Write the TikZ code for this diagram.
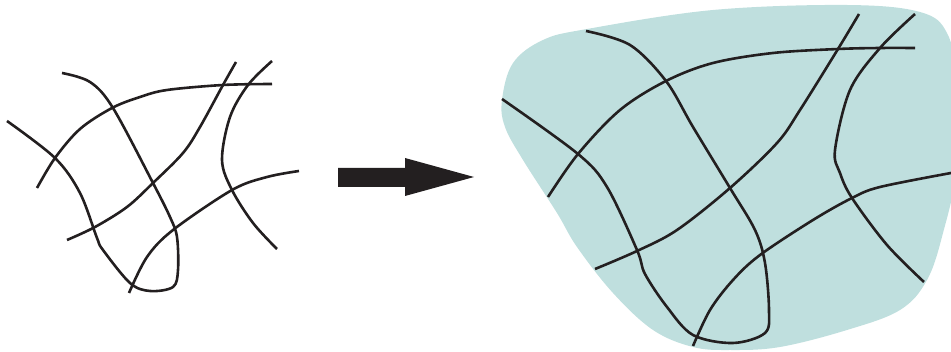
\documentclass[tikz,border=0pt]{standalone}
\definecolor{blobteal}{RGB}{191,223,222}
\definecolor{fiber}{RGB}{35,31,32}
\begin{document}
\begin{tikzpicture}[x=1pt,y=-1pt,
  fiberline/.style={draw=fiber,line width=2.6pt,line cap=butt,line join=round},
  smoothline/.style={smooth,tension=0.55}]
\clip (0,0) rectangle (951,352);
\useasboundingbox (0,0) rectangle (951,352);
% ---------- left network ----------
\draw[fiberline] plot[smoothline] coordinates {(62,73) (90,82) (113,108) (153,183) (170,217) (177,237) (178,270) (173,287) (150,291) (130,283) (103,250) (97,238) (80,193) (55,158) (7,121)};
\draw[fiberline] plot[smoothline] coordinates {(37,188) (55,158) (80,129) (112,108) (140,97) (167,90) (223,85) (272,84)};
\draw[fiberline] plot[smoothline] coordinates {(67,240) (95,227) (127,207) (153,183) (183,153) (200,127) (223,85) (236,62)};
\draw[fiberline] plot[smoothline] coordinates {(272,61) (248,85) (230,117) (222,160) (232,190) (253,223) (277,249)};
\draw[fiberline] plot[smoothline] coordinates {(129,293) (147,257) (173,230) (232,190) (267,177) (299,171)};
% ---------- arrow ----------
\fill[fiber] (338,168) -- (405,168) -- (405,158) -- (474,177) -- (405,196) -- (405,187) -- (338,187) -- cycle;
% ---------- right blob ----------
\fill[blobteal] plot[smooth cycle,tension=0.6] coordinates {(502,100) (513,63) (543,40) (587,29) (713,10) (847,5) (920,12) (947,33) (956,80) (956,170) (943,233) (927,280) (900,310) (847,330) (780,347) (730,350) (693,347) (653,330) (613,293) (577,247) (557,213) (523,160) (505,127)};
% ---------- right network ----------
\draw[fiberline] plot[smoothline] coordinates {(586,31) (630,45) (666,81) (693,127) (730,188) (755,230) (765,263) (769,310) (765,333) (733,343) (693,335) (667,307) (645,274) (637,250) (607,187) (578,154) (502,99)};
\draw[fiberline] plot[smoothline] coordinates {(548,197) (578,154) (620,110) (666,81) (713,63) (773,53) (838,49) (880,48) (915,48)};
\draw[fiberline] plot[smoothline] coordinates {(595,269) (637,251) (677,230) (730,188) (777,143) (800,110) (838,49) (859,14)};
\draw[fiberline] plot[smoothline] coordinates {(915,14) (880,48) (850,90) (835,150) (840,173) (852,198) (887,245) (924,282)};
\draw[fiberline] plot[smoothline] coordinates {(693,346) (710,310) (733,280) (760,255) (813,220) (852,198) (880,187) (951,173)};
\end{tikzpicture}
\end{document}
